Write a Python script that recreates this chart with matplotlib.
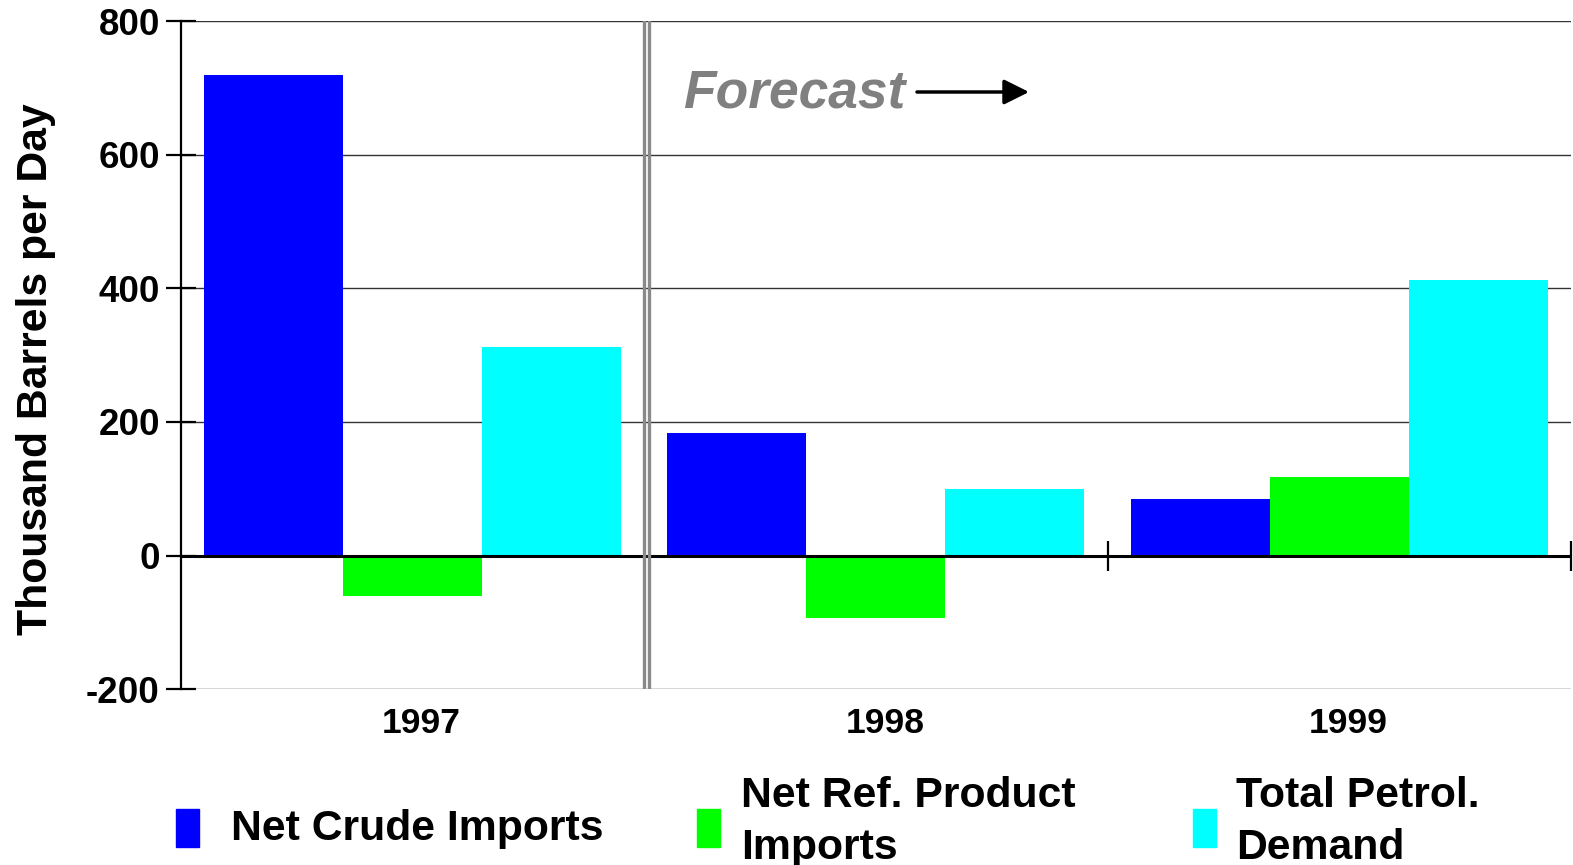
import numpy as np
import matplotlib
matplotlib.use("Agg")
import matplotlib.pyplot as plt
import matplotlib.transforms as mtransforms
from matplotlib.patches import Rectangle

plt.rcParams['font.family'] = ['Liberation Sans', 'DejaVu Sans']
plt.rcParams['font.weight'] = 'bold'

# datos
years = ['1997', '1998', '1999']
series = ['Net Crude Imports', 'Net Ref. Product\nImports', 'Total Petrol.\nDemand']
crude = [720, 183, 85]
product = [-61, -94, 117]
demand = [312, 100, 412]
colors = ['#0000ff', '#00ff00', '#00ffff']
yticks = [-200, 0, 200, 400, 600, 800]

W, H = 1573, 865
fig = plt.figure(figsize=(W / 100, H / 100), dpi=100)
ax = fig.add_axes([180.6 / W, 1 - 689.2 / H, 1390.5 / W, 668.1 / H])

x = np.arange(len(years))
w = 0.3
for k, vals in enumerate([crude, product, demand]):
    ax.bar(x + (k - 1) * w, vals, width=w, color=colors[k], zorder=2)

ax.set_xlim(-0.5, 2.5)
ax.set_ylim(-200, 800)

# rejilla
for t in yticks:
    if t == 0:
        continue
    ax.axhline(t, color='#333333', lw=1.0, zorder=1)
ax.axhline(0, color='black', lw=2.2, zorder=3)

# doble linea del pronostico
ax.axvline(0.5 - 0.001, color='#8a8a8a', lw=2.4, zorder=4)
ax.axvline(0.5 + 0.0106, color='#8a8a8a', lw=2.4, zorder=4)

# marcas en la linea cero
ax.plot([1.5, 2.5], [0, 0], ls='none', marker='|', markersize=21, mew=1.6,
        color='black', clip_on=False, zorder=4)

for s in ['top', 'right', 'bottom']:
    ax.spines[s].set_visible(False)
ax.spines['left'].set_linewidth(1.6)

ax.set_yticks(yticks)
ax.set_yticklabels([str(t) for t in yticks], fontsize=26.5, fontweight='bold')
ax.tick_params(axis='y', direction='inout', length=22, width=1.6, pad=4)
ax.set_xticks(x)
ax.set_xticklabels(years, fontsize=25.5, fontweight='bold')
ax.tick_params(axis='x', length=0, pad=12.5)
shift = mtransforms.ScaledTranslation(9 / 100, 0, fig.dpi_scale_trans)
for lab in ax.get_xticklabels():
    lab.set_transform(lab.get_transform() + shift)

fig.text(36 / W, 1 - 369 / H, 'Thousand Barrels per Day', rotation=90,
         ha='center', va='center', fontsize=30.8, fontweight='bold')

fig.text(683 / W, 1 - 107 / H, 'Forecast', ha='left', va='baseline',
         fontsize=38.4, fontweight='bold', style='italic', color='#808080')
ax.annotate('', xy=(1029 / W, 1 - 92 / H), xytext=(917 / W, 1 - 92 / H),
            xycoords='figure fraction', textcoords='figure fraction',
            arrowprops=dict(arrowstyle='-|>', mutation_scale=38, lw=2.5,
                            color='black', shrinkA=0, shrinkB=0))

# leyenda manual
leg_x = [175.5, 696.5, 1193]
txt_x = [230.7, 741, 1236]
for k in range(3):
    fig.patches.append(Rectangle((leg_x[k] / W, 1 - 847 / H), 23 / W, 38 / H,
                                 transform=fig.transFigure, color=colors[k]))
    lines = series[k].split('\n')
    base = [840] if len(lines) == 1 else [807, 859]
    for line, b in zip(lines, base):
        fig.text(txt_x[k] / W, 1 - b / H, line, ha='left', va='baseline',
                 fontsize=30.8, fontweight='bold')

fig.savefig('out.png', dpi=100)
